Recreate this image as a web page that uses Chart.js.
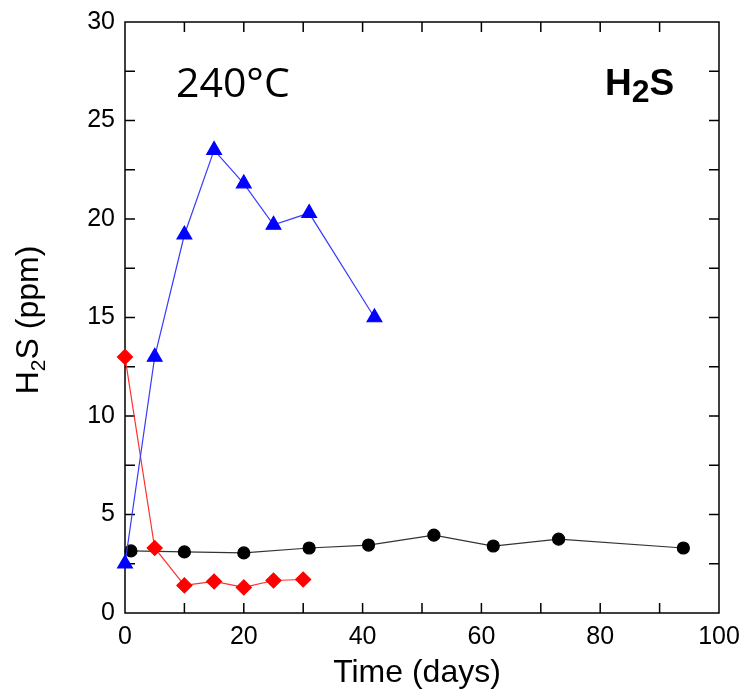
<!DOCTYPE html>
<html>
<head>
<meta charset="utf-8">
<script src="https://cdn.jsdelivr.net/npm/chart.js@4"></script>
<style>
  body { margin: 0; background: #fff; }
  #wrap { width: 746px; height: 689px; position: relative; }
</style>
</head>
<body>
<div id="wrap"><canvas id="h2s"></canvas></div>
<script>
// time axis (days) and H2S readings (ppm) for each run
const triDays = [0, 5, 10, 15, 20, 25, 31, 42];
const triH2S = [2.5, 13.0, 19.2, 23.5, 21.8, 19.7, 20.3, 15.0];
const diaDays = [0, 5, 10, 15, 20, 25, 30];
const diaH2S = [13.0, 3.3, 1.4, 1.6, 1.3, 1.65, 1.7];
const dotDays = [1, 10, 20, 31, 41, 52, 62, 73, 94];
const dotH2S = [3.15, 3.1, 3.05, 3.3, 3.45, 3.95, 3.4, 3.75, 3.3];

const xTicks = [0, 20, 40, 60, 80, 100];
const yTicks = [0, 5, 10, 15, 20, 25, 30];
const xMinor = 10;   // inner tick spacing on the time axis
const yMinor = 2.5;  // inner tick spacing on the ppm axis

const toPoints = (xs, ys) => xs.map((d, i) => ({ x: d, y: ys[i] }));
const axisFont = { family: "'Liberation Sans', Arial, sans-serif", size: 25 };

// box frame, inward ticks on all four sides, axis titles and labels
const decorations = {
  id: 'decorations',
  beforeDatasetsDraw(chart) {
    const { ctx, chartArea: a, scales: { x, y } } = chart;
    ctx.save();
    ctx.strokeStyle = '#000';
    ctx.lineWidth = 1.5;
    ctx.strokeRect(a.left, a.top, a.right - a.left, a.bottom - a.top);
    ctx.beginPath();
    for (let v = xMinor; v < x.max; v += xMinor) {
      const px = x.getPixelForValue(v);
      ctx.moveTo(px, a.bottom); ctx.lineTo(px, a.bottom - 10);
      ctx.moveTo(px, a.top); ctx.lineTo(px, a.top + 10);
    }
    for (let v = yMinor; v < y.max; v += yMinor) {
      const py = y.getPixelForValue(v);
      ctx.moveTo(a.left, py); ctx.lineTo(a.left + 10, py);
      ctx.moveTo(a.right, py); ctx.lineTo(a.right - 10, py);
    }
    ctx.stroke();

    ctx.fillStyle = '#000';
    ctx.textBaseline = 'alphabetic';

    // x title
    ctx.font = "32px 'Liberation Sans', Arial, sans-serif";
    ctx.textAlign = 'center';
    ctx.fillText('Time (days)', 417, 682);

    // y title with subscript, rotated
    ctx.save();
    ctx.translate(38, 320);
    ctx.rotate(-Math.PI / 2);
    ctx.textAlign = 'left';
    const big = "32px 'Liberation Sans', Arial, sans-serif";
    const small = "21px 'Liberation Sans', Arial, sans-serif";
    ctx.font = big;
    const wH = ctx.measureText('H').width;
    const wRest = ctx.measureText('S (ppm)').width;
    ctx.font = small;
    const w2 = ctx.measureText('2').width;
    let cx = -(wH + w2 + wRest) / 2;
    ctx.font = big; ctx.fillText('H', cx, 0); cx += wH;
    ctx.font = small; ctx.fillText('2', cx, 7); cx += w2;
    ctx.font = big; ctx.fillText('S (ppm)', cx, 0);
    ctx.restore();

    // temperature label
    ctx.textAlign = 'left';
    ctx.font = "41px 'Open Sans', 'Noto Sans', sans-serif";
    ctx.fillText('240°C', 176, 97);

    // species label, bold with lowered 2
    const bold = "bold 37px 'Liberation Sans', Arial, sans-serif";
    const boldSub = "bold 32px 'Liberation Sans', Arial, sans-serif";
    let lx = 605;
    ctx.font = bold; ctx.fillText('H', lx, 95); lx += ctx.measureText('H').width;
    ctx.font = boldSub; ctx.fillText('2', lx, 102); lx += ctx.measureText('2').width;
    ctx.font = bold; ctx.fillText('S', lx, 95);
    ctx.restore();
  }
};

new Chart(document.getElementById('h2s'), {
  type: 'line',
  plugins: [decorations],
  data: {
    datasets: [
      {
        data: toPoints(triDays, triH2S),
        borderColor: '#3a3aff',
        backgroundColor: '#0000ff',
        pointBorderColor: '#0000ff',
        borderWidth: 1.2,
        pointStyle: 'triangle',
        pointRadius: 8.5,
        clip: false,
        order: 1
      },
      {
        data: toPoints(diaDays, diaH2S),
        borderColor: '#ff3030',
        backgroundColor: '#ff0000',
        pointBorderColor: '#ff0000',
        borderWidth: 1.2,
        pointStyle: 'rectRot',
        pointRadius: 7.5,
        clip: false,
        order: 2
      },
      {
        data: toPoints(dotDays, dotH2S),
        borderColor: '#333',
        backgroundColor: '#000',
        pointBorderColor: '#000',
        borderWidth: 1.2,
        pointStyle: 'circle',
        pointRadius: 6,
        clip: false,
        order: 3
      }
    ]
  },
  options: {
    responsive: true,
    maintainAspectRatio: false,
    animation: false,
    layout: { padding: { top: 22, right: 27, left: 0, bottom: 0 } },
    plugins: { legend: { display: false }, tooltip: { enabled: false } },
    elements: { line: { tension: 0 } },
    scales: {
      x: {
        type: 'linear',
        min: 0,
        max: 100,
        afterFit: s => { s.height = 76; s.paddingLeft = 0; s.paddingRight = 0; },
        afterBuildTicks: s => { s.ticks = xTicks.map(v => ({ value: v })); },
        grid: { display: false, drawTicks: false },
        border: { display: false },
        ticks: { color: '#000', font: axisFont, padding: 9, maxRotation: 0 }
      },
      y: {
        min: 0,
        max: 30,
        afterFit: s => { s.width = 125; s.paddingTop = 0; s.paddingBottom = 0; },
        afterBuildTicks: s => { s.ticks = yTicks.map(v => ({ value: v })); },
        grid: { display: false, drawTicks: false },
        border: { display: false },
        ticks: { color: '#000', font: axisFont, padding: 10 }
      }
    }
  }
});
</script>
</body>
</html>
